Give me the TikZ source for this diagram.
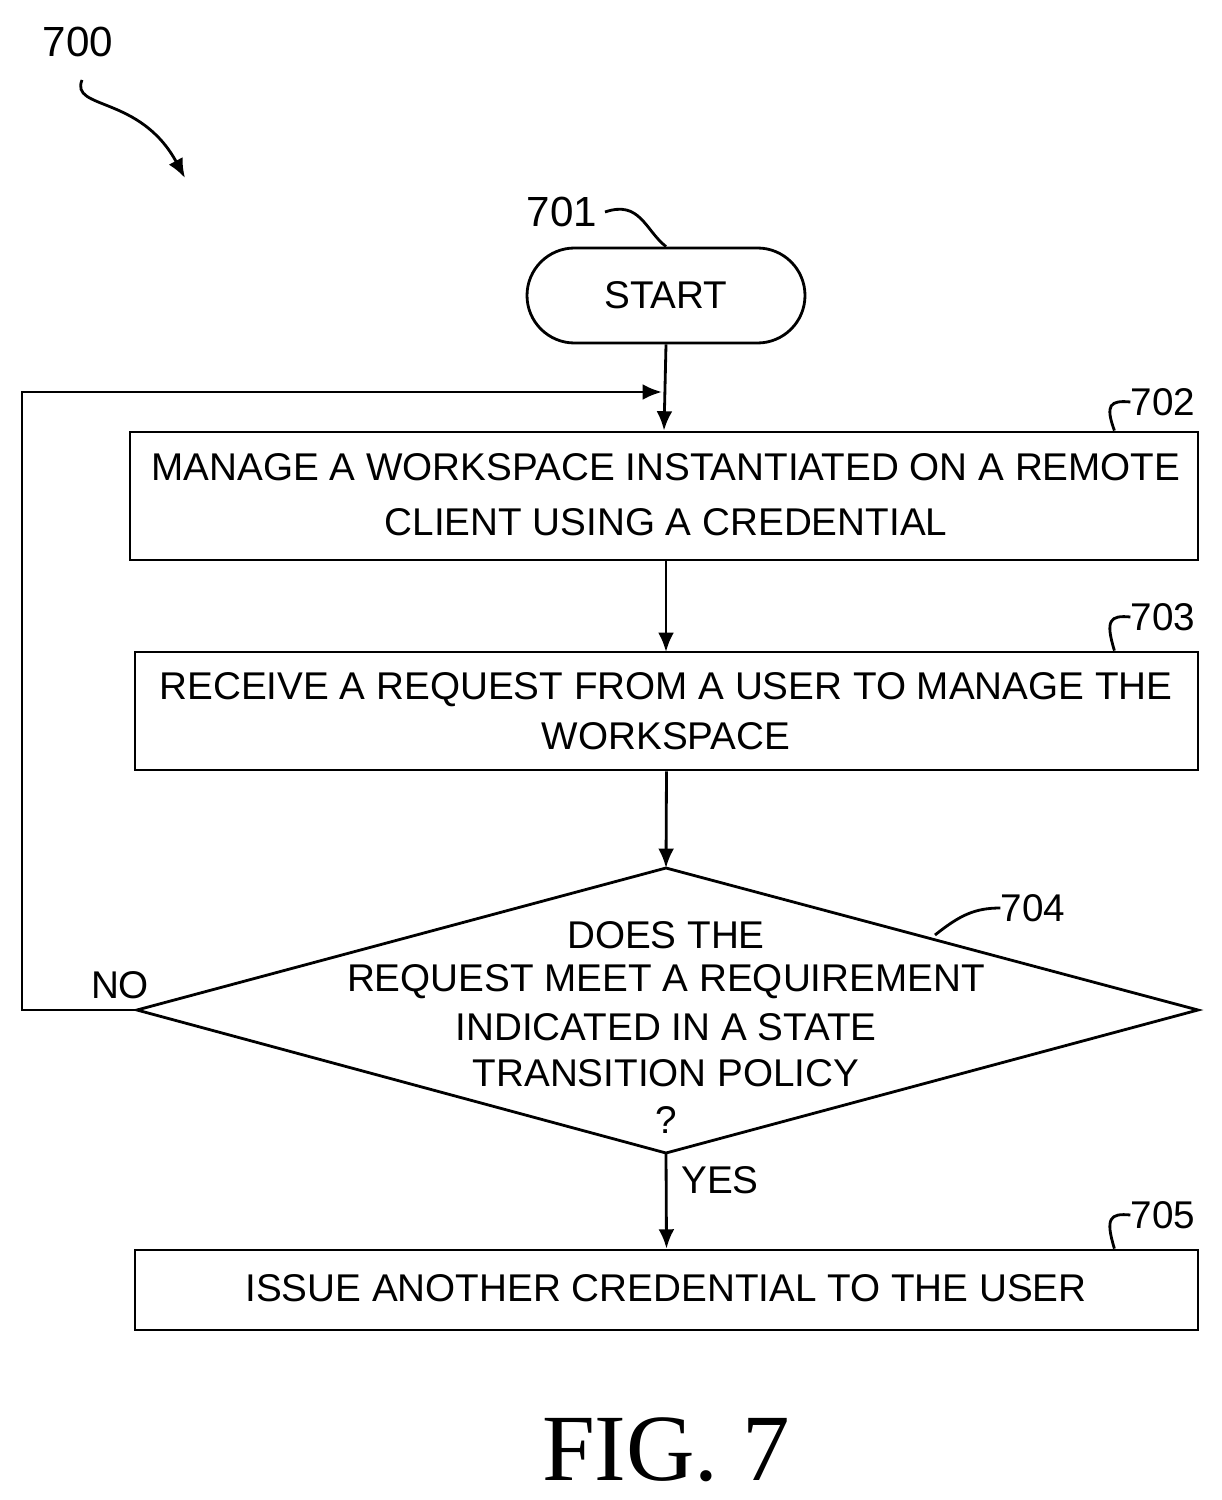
\documentclass[tikz,border=0pt]{standalone}
\usepackage{fontspec}
\setmainfont{Liberation Sans}
\newfontfamily\figfont{Liberation Serif}
\usetikzlibrary{shapes.geometric,arrows.meta}
\begin{document}
\begin{tikzpicture}[x=0.02cm,y=-0.02cm,
  lw/.style={line width=1.6pt},
  box/.style={lw,draw},
  txt/.style={font=\fontsize{22}{26}\selectfont,inner sep=0pt},
  arr/.style={lw,-{Latex[length=11pt,width=9pt]}}]
\useasboundingbox (0,0) rectangle (1221,1500);
\node[txt,font=\fontsize{24}{28}\selectfont] (l700) at (78,42) {700};
\coordinate (c700a) at (82,80);
\coordinate (c700b) at (185,178);
\draw[arr] (c700a) .. controls (70,110) and (140,95) .. (c700b);
\node[txt,font=\fontsize{24}{28}\selectfont] (l701) at (562,212) {701};
\draw[lw,draw=none] (527,248) rectangle (805,343);
\node[box,rounded corners=47.5*0.02cm,minimum width=278*0.02cm,minimum height=95*0.02cm,txt] (start) at (666,295.5) {START};
\draw[lw] (605,212) .. controls (640,200) and (645,230) .. (start.north);
\node[box,minimum width=1068*0.02cm,minimum height=128*0.02cm] (b702) at (664,496) {};
\node[txt] at (666,467) {MANAGE A WORKSPACE INSTANTIATED ON A REMOTE};
\node[txt] at (666,522) {CLIENT USING A CREDENTIAL};
\node[box,minimum width=1063*0.02cm,minimum height=118*0.02cm] (b703) at (666.5,711) {};
\node[txt] at (666,690) {RECEIVE A REQUEST FROM A USER TO MANAGE THE};
\node[txt] at (666,736) {WORKSPACE};
\coordinate (dt) at (666,868);
\coordinate (dl) at (137,1010);
\coordinate (dr) at (1198,1010);
\coordinate (db) at (666,1153);
\draw[lw] (dt)--(dr)--(db)--(dl)--cycle;
\node[txt] at (666,935) {DOES THE};
\node[txt] at (666,982) {REQUEST MEET A REQUIREMENT};
\node[txt] at (666,1027) {INDICATED IN A STATE};
\node[txt] at (666,1073) {TRANSITION POLICY};
\node[txt] at (666,1120) {?};
\node[box,minimum width=1063*0.02cm,minimum height=80*0.02cm] (b705) at (666.5,1290) {};
\node[txt] at (666,1288) {ISSUE ANOTHER CREDENTIAL TO THE USER};
\node[txt] (l702) at (1163,402) {702};
\node[txt] (l703) at (1163,617) {703};
\node[txt] (l704) at (1033,908) {704};
\node[txt] (l705) at (1163,1215) {705};
\draw[lw] (b702.north east)++(-85,0) .. controls (1105,405) and (1110,400) .. (l702.west);
\draw[lw] (b703.north east)++(-85,0) .. controls (1105,620) and (1110,615) .. (l703.west);
\draw[lw] (935,935) .. controls (960,915) and (975,908) .. (l704.west);
\draw[lw] (b705.north east)++(-85,0) .. controls (1105,1218) and (1110,1213) .. (l705.west);
\node[txt] (no) at (120,985) {NO};
\node[txt] (yes) at (720,1180) {YES};
\draw[arr] (start.south) -- (b702.north);
\draw[arr] (b702.south) ++(2,0) -- (666,652);
\draw[arr] (b703.south) -- (dt);
\draw[arr] (db) -- (b705.north);
\coordinate (lp1) at (22,1010);
\coordinate (lp2) at (22,392);
\coordinate (lp3) at (662,392);
\draw[arr] (dl) -- (lp1) -- (lp2) -- (lp3);
\node[inner sep=0pt,font=\figfont\fontsize{54}{60}\selectfont] (fig) at (666,1450) {FIG. 7};
\end{tikzpicture}
\end{document}
